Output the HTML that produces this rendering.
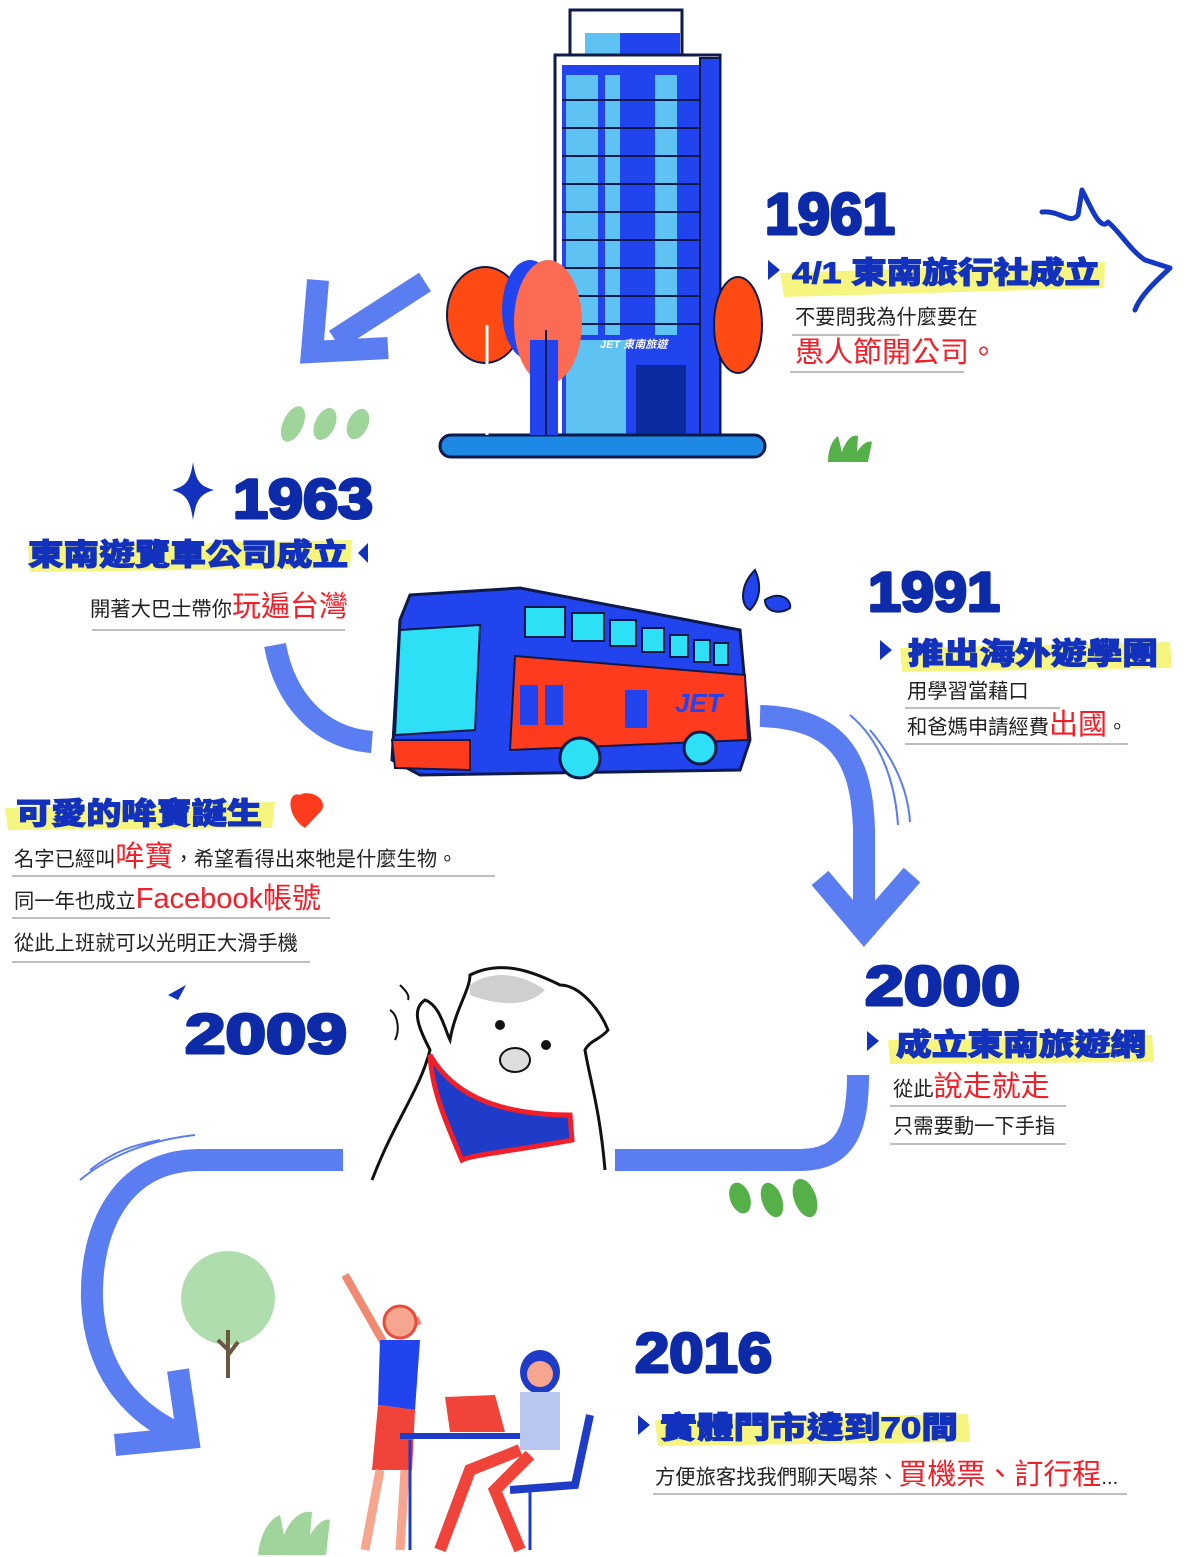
<!DOCTYPE html>
<html><head><meta charset="utf-8">
<style>
html,body{margin:0;padding:0;background:#fff;}
svg{display:block;}
.yr{font-family:"Liberation Sans",sans-serif;font-weight:900;fill:#0d2aa8;stroke:#0d2aa8;stroke-width:3;stroke-linejoin:round;}
.tt{font-family:"Liberation Sans","Noto Sans CJK TC",sans-serif;font-weight:900;fill:#1231bd;stroke:#1231bd;stroke-width:1;}
.bd{font-family:"Liberation Sans","Noto Sans CJK TC",sans-serif;fill:#222;font-size:20.3px;}
.rd{fill:#f0202a;font-size:29px;}
.hl{fill:#f6f57f;}
.ul{stroke:#999;stroke-width:1.2;}
.flow{fill:none;stroke:#5b7df2;stroke-width:22;}
</style></head><body>
<svg width="1189" height="1557" viewBox="0 0 1189 1557" xmlns="http://www.w3.org/2000/svg">
<!-- building -->
<rect x="570" y="10" width="112" height="50" fill="#fff" stroke="#0d1a4a" stroke-width="3"/>
<rect x="585" y="33" width="95" height="30" fill="#2244ee"/>
<rect x="585" y="33" width="35" height="30" fill="#5ec3f2"/>
<rect x="555" y="55" width="165" height="385" fill="#fff" stroke="#0d1a4a" stroke-width="3"/>
<rect x="562" y="65" width="148" height="372" fill="#2244ee"/>
<g fill="#5ec3f2">
<rect x="566" y="75" width="32" height="260"/><rect x="605" y="75" width="15" height="260"/><rect x="655" y="75" width="22" height="260"/>
<rect x="566" y="340" width="60" height="95"/>
</g>
<g stroke="#0d1a4a" stroke-width="2">
<line x1="562" y1="100" x2="705" y2="100"/><line x1="562" y1="128" x2="705" y2="128"/><line x1="562" y1="156" x2="705" y2="156"/><line x1="562" y1="184" x2="705" y2="184"/><line x1="562" y1="212" x2="705" y2="212"/><line x1="562" y1="240" x2="705" y2="240"/><line x1="562" y1="268" x2="705" y2="268"/><line x1="562" y1="296" x2="705" y2="296"/><line x1="562" y1="324" x2="705" y2="324"/>
</g>
<rect x="700" y="58" width="20" height="380" fill="#2244ee" stroke="#0d1a4a" stroke-width="2"/>
<rect x="636" y="365" width="50" height="72" fill="#0a2aa0"/>
<text x="600" y="348" font-family="Liberation Sans,Noto Sans CJK TC,sans-serif" font-size="11" fill="#fff" font-style="italic" font-weight="bold">JET 東南旅遊</text>
<rect x="440" y="435" width="325" height="22" rx="11" fill="#1e88e5" stroke="#0d1a4a" stroke-width="3"/>
<!-- trees -->
<ellipse cx="485" cy="315" rx="38" ry="48" fill="#ff4a14" stroke="#0d1a4a" stroke-width="2"/>
<line x1="487" y1="325" x2="487" y2="435" stroke="#fff" stroke-width="3"/>
<ellipse cx="530" cy="310" rx="28" ry="50" fill="#2244ee"/>
<ellipse cx="548" cy="322" rx="34" ry="62" fill="#fb6a52"/>
<rect x="530" y="340" width="28" height="95" fill="#2244ee"/>
<line x1="546" y1="330" x2="546" y2="435" stroke="#0d1a4a" stroke-width="2"/>
<ellipse cx="738" cy="325" rx="24" ry="48" fill="#ff4a14" stroke="#0d1a4a" stroke-width="2"/>
<!-- top-left arrow -->
<path d="M425 282 L335 340 M318 280 L312 352 L388 348" fill="none" stroke="#5b7df2" stroke-width="22" stroke-linejoin="miter"/>
<g fill="#9fd49a"><ellipse cx="293" cy="424" rx="10" ry="19" transform="rotate(25 293 424)"/><ellipse cx="325" cy="424" rx="10" ry="17" transform="rotate(25 325 424)"/><ellipse cx="358" cy="424" rx="10" ry="16" transform="rotate(25 358 424)"/></g>
<path d="M828 462 C828 450 832 440 838 436 L842 452 C846 440 852 434 858 436 L857 452 C862 444 868 440 872 442 L868 462 Z" fill="#56b04a"/>
<!-- 1961 -->
<text class="yr" x="765" y="234" font-size="58" textLength="130" lengthAdjust="spacingAndGlyphs">1961</text>
<path d="M780 273 L1105 262 L1104 288 L784 297 Z" class="hl"/>
<path d="M768 260 L780 270 L768 280 Z" fill="#1231bd"/>
<text class="tt" x="792" y="283" font-size="30" textLength="308" lengthAdjust="spacingAndGlyphs">4/1 東南旅行社成立</text>
<text class="bd" x="795" y="324">不要問我為什麼要在</text>
<line class="ul" x1="792" y1="335" x2="900" y2="335"/>
<text class="bd rd" x="795" y="362">愚人節開公司。</text>
<line class="ul" x1="790" y1="372" x2="964" y2="372"/>
<path d="M1042 212 C1060 210 1070 225 1078 215 L1082 190 C1090 205 1100 232 1108 222 C1120 232 1130 250 1145 260 L1170 268 C1155 282 1140 296 1135 310" fill="none" stroke="#1437c4" stroke-width="5" stroke-linecap="round" stroke-linejoin="round"/>
<!-- 1963 -->
<path d="M193 462 C196 482 200 486 214 490 C200 494 196 500 193 520 C190 500 186 494 172 490 C186 486 190 482 193 462 Z" fill="#1231bd"/>
<text class="yr" x="233" y="518" font-size="56" textLength="140" lengthAdjust="spacingAndGlyphs">1963</text>
<path d="M28 546 L352 540 L350 568 L30 572 Z" class="hl"/>
<text class="tt" x="28" y="565" font-size="30" textLength="320" lengthAdjust="spacingAndGlyphs">東南遊覽車公司成立</text>
<path d="M368 543 L358 553 L368 563 Z" fill="#1231bd"/>
<text class="bd" x="90" y="616">開著大巴士帶你<tspan class="rd">玩遍台灣</tspan></text>
<line class="ul" x1="92" y1="630" x2="345" y2="630"/>
<path class="flow" d="M275 645 C285 700 320 738 372 742"/>
<!-- bus -->
<path d="M410 595 L520 588 L740 630 L750 740 L740 770 L420 775 L392 760 L400 620 Z" fill="#2244ee" stroke="#0d1a4a" stroke-width="3"/>
<path d="M400 630 L480 625 L475 730 L395 735 Z" fill="#2ee0f5" stroke="#0d1a4a" stroke-width="2"/>
<g fill="#2ee0f5" stroke="#0d1a4a" stroke-width="2">
<rect x="525" y="607" width="40" height="30"/><rect x="572" y="613" width="32" height="28"/><rect x="610" y="620" width="26" height="26"/><rect x="642" y="628" width="22" height="24"/><rect x="670" y="635" width="18" height="22"/><rect x="694" y="640" width="16" height="22"/><rect x="714" y="643" width="14" height="22"/></g>
<path d="M515 656 L745 675 L748 740 L510 750 Z" fill="#ff3b1e" stroke="#0d1a4a" stroke-width="2"/>
<g fill="#2244ee"><rect x="520" y="685" width="18" height="40"/><rect x="545" y="685" width="18" height="40"/><rect x="625" y="690" width="22" height="38"/></g>
<path d="M392 740 L470 740 L470 770 L395 768 Z" fill="#ff3b1e" stroke="#0d1a4a" stroke-width="2"/>
<text x="675" y="712" font-family="Liberation Sans,sans-serif" font-weight="900" font-style="italic" font-size="26" fill="#2244ee">JET</text>
<circle cx="580" cy="758" r="20" fill="#2ee0f5" stroke="#0d1a4a" stroke-width="3"/>
<circle cx="700" cy="748" r="16" fill="#2ee0f5" stroke="#0d1a4a" stroke-width="3"/>
<path d="M755 570 C740 585 740 605 750 610 C760 600 762 585 755 570 Z M765 600 C780 590 792 600 790 608 C780 615 765 612 765 600 Z" fill="#2244ee" stroke="#0d1a4a" stroke-width="2"/>
<!-- 1991 -->
<text class="yr" x="868" y="611" font-size="56" textLength="132" lengthAdjust="spacingAndGlyphs">1991</text>
<path d="M900 648 L1170 642 L1172 668 L902 672 Z" class="hl"/>
<path d="M880 640 L892 650 L880 660 Z" fill="#1231bd"/>
<text class="tt" x="908" y="664" font-size="30" textLength="250" lengthAdjust="spacingAndGlyphs">推出海外遊學團</text>
<text class="bd" x="907" y="698">用學習當藉口</text>
<line class="ul" x1="905" y1="708" x2="1060" y2="708"/>
<text class="bd" x="907" y="734">和爸媽申請經費<tspan class="rd">出國</tspan>。</text>
<line class="ul" x1="905" y1="744" x2="1128" y2="744"/>
<path class="flow" d="M760 716 C840 718 862 760 864 830 L864 935"/>
<path d="M820 878 L864 930 L912 875" fill="none" stroke="#5b7df2" stroke-width="22"/>
<path d="M850 715 C880 740 895 780 898 825 M870 730 C895 760 908 790 910 822" fill="none" stroke="#5b7df2" stroke-width="2"/>
<!-- cow born -->
<path d="M5 808 L275 802 L272 828 L8 830 Z" class="hl"/>
<text class="tt" x="16" y="824" font-size="30" textLength="246" lengthAdjust="spacingAndGlyphs">可愛的哞寶誕生</text>
<path d="M305 828 C285 815 288 790 300 795 C305 790 328 795 322 810 Z" fill="#ff3b1e"/>
<text class="bd" x="14" y="866">名字已經叫<tspan class="rd">哞寶</tspan>，希望看得出來牠是什麼生物。</text>
<line class="ul" x1="12" y1="876" x2="495" y2="876"/>
<text class="bd" x="14" y="908">同一年也成立<tspan class="rd" font-size="30">Facebook帳號</tspan></text>
<line class="ul" x1="12" y1="918" x2="330" y2="918"/>
<text class="bd" x="14" y="950">從此上班就可以光明正大滑手機</text>
<line class="ul" x1="12" y1="962" x2="310" y2="962"/>
<!-- 2000 -->
<text class="yr" x="865" y="1005" font-size="56" textLength="155" lengthAdjust="spacingAndGlyphs">2000</text>
<path d="M888 1040 L1152 1035 L1154 1062 L890 1064 Z" class="hl"/>
<path d="M867 1031 L879 1041 L867 1051 Z" fill="#1231bd"/>
<text class="tt" x="896" y="1055" font-size="30" textLength="250" lengthAdjust="spacingAndGlyphs">成立東南旅遊網</text>
<text class="bd" x="893" y="1096">從此<tspan class="rd">說走就走</tspan></text>
<line class="ul" x1="890" y1="1106" x2="1066" y2="1106"/>
<text class="bd" x="893" y="1133">只需要動一下手指</text>
<line class="ul" x1="890" y1="1144" x2="1066" y2="1144"/>
<path class="flow" d="M615 1160 L800 1160 C845 1160 858 1130 858 1075"/>
<g fill="#56b04a"><ellipse cx="740" cy="1198" rx="10" ry="16" transform="rotate(-20 740 1198)"/><ellipse cx="772" cy="1200" rx="10" ry="18" transform="rotate(-20 772 1200)"/><ellipse cx="805" cy="1198" rx="11" ry="20" transform="rotate(-20 805 1198)"/></g>
<!-- 2009 + cow -->
<path d="M168 995 L186 985 L178 1000 Z" fill="#1231bd"/>
<text class="yr" x="185" y="1053" font-size="56" textLength="162" lengthAdjust="spacingAndGlyphs">2009</text>
<path d="M372 1180 C395 1120 420 1090 430 1050 C420 1030 410 1010 425 1000 C440 1005 445 1030 450 1040 C455 1010 470 990 470 975 C500 960 530 970 560 985 C580 985 600 1010 608 1030 C600 1040 590 1040 585 1050 C590 1080 600 1110 605 1170" fill="#fff" stroke="#111" stroke-width="3"/>
<path d="M470 985 C490 970 520 972 545 990 C530 1005 505 1008 470 995 Z" fill="#cfcfcf"/>
<path d="M430 1055 C450 1090 490 1115 570 1115 L572 1140 C520 1150 470 1155 462 1160 C445 1120 432 1090 430 1055 Z" fill="#1e3cc8" stroke="#f0202a" stroke-width="5"/>
<circle cx="500" cy="1025" r="5" fill="#111"/><circle cx="546" cy="1045" r="5" fill="#111"/>
<ellipse cx="515" cy="1060" rx="15" ry="12" fill="#ddd" stroke="#111" stroke-width="2"/>
<path d="M400 985 C405 990 410 995 408 1000 M390 1010 C398 1015 400 1030 395 1040" stroke="#111" stroke-width="2" fill="none"/>
<!-- bottom-left curve -->
<path class="flow" d="M343 1160 L200 1160 C120 1160 90 1230 92 1300 C95 1370 130 1410 175 1432"/>
<path d="M178 1370 L188 1438 L115 1445" fill="none" stroke="#5b7df2" stroke-width="22"/>
<path d="M80 1180 C110 1155 150 1140 195 1135 M90 1170 C115 1150 135 1145 160 1140" fill="none" stroke="#5b7df2" stroke-width="2"/>
<circle cx="228" cy="1298" r="47" fill="#b0ddae"/>
<path d="M228 1330 L228 1378 M228 1350 L218 1340 M228 1355 L238 1342" stroke="#6b5840" stroke-width="4"/>
<path d="M258 1555 C260 1535 268 1520 280 1515 L284 1535 C290 1520 300 1510 312 1512 L310 1535 C318 1522 326 1518 330 1520 L326 1555 Z" fill="#9fd49a"/>
<!-- people -->
<path d="M345 1275 L385 1345 M395 1330 L420 1320" stroke="#f08a70" stroke-width="8" fill="none"/>
<circle cx="400" cy="1322" r="16" fill="#f6a58f" stroke="#e94a3a" stroke-width="3"/>
<path d="M380 1340 L420 1340 L415 1410 L378 1405 Z" fill="#2244ee"/>
<path d="M378 1405 L415 1410 L412 1470 L372 1470 Z" fill="#f0443a"/>
<path d="M380 1470 L365 1550 M405 1470 L400 1550" stroke="#f6a58f" stroke-width="9"/>
<rect x="400" y="1433" width="135" height="6" fill="#1e3cc8"/>
<path d="M445 1397 L495 1395 L505 1432 L450 1432 Z" fill="#f0443a"/>
<ellipse cx="540" cy="1372" rx="20" ry="22" fill="#1e3cc8"/>
<circle cx="540" cy="1374" r="13" fill="#f6a58f"/>
<path d="M520 1392 L560 1392 L560 1450 L520 1450 Z" fill="#b8c6f0"/>
<path d="M520 1450 L470 1470 L440 1550 M530 1455 L495 1490 L520 1550" stroke="#f0443a" stroke-width="12" fill="none"/>
<path d="M590 1415 L575 1485 L510 1490" stroke="#1e3cc8" stroke-width="8" fill="none"/>
<path d="M530 1490 L530 1550 M410 1440 L410 1550" stroke="#1e3cc8" stroke-width="3"/>
<!-- 2016 -->
<text class="yr" x="635" y="1372" font-size="56" textLength="137" lengthAdjust="spacingAndGlyphs">2016</text>
<path d="M655 1420 L968 1414 L970 1442 L658 1446 Z" class="hl"/>
<path d="M638 1415 L650 1425 L638 1435 Z" fill="#1231bd"/>
<text class="tt" x="660" y="1438" font-size="30" textLength="298" lengthAdjust="spacingAndGlyphs">實體門市達到70間</text>
<text class="bd" x="655" y="1484">方便旅客找我們聊天喝茶、<tspan class="rd">買機票、訂行程</tspan>...</text>
<line class="ul" x1="653" y1="1494" x2="1127" y2="1494"/>
</svg>
</body></html>
